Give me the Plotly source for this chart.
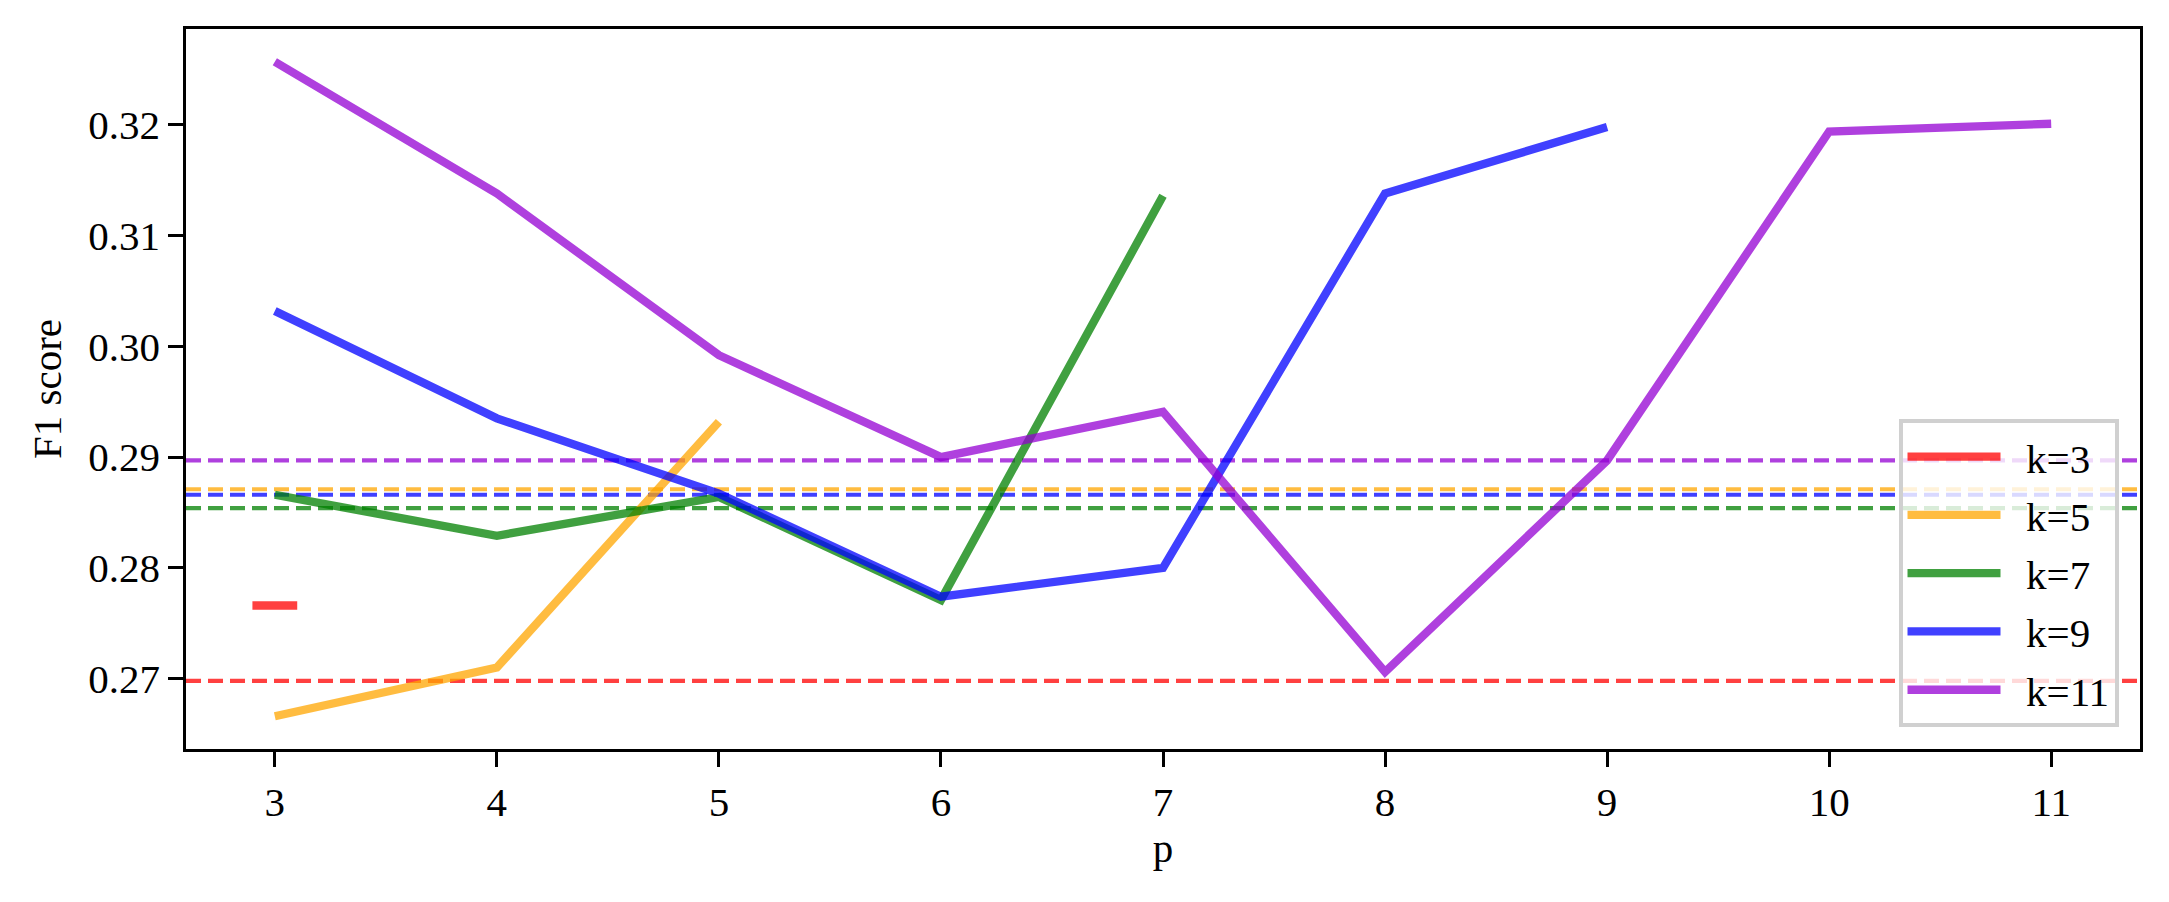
import plotly.graph_objects as go

# F1 score vs p for different k
p_values = [3, 4, 5, 6, 7, 8, 9, 10, 11]
k_labels = ["k=3", "k=5", "k=7", "k=9", "k=11"]
f1_k3 = [0.2766]
f1_k5 = [0.2666, 0.2710, 0.2932]
f1_k7 = [0.2866, 0.2829, 0.2864, 0.2771, 0.3136]
f1_k9 = [0.3032, 0.2935, 0.2867, 0.2774, 0.2800, 0.3138, 0.3198]
f1_k11 = [0.3257, 0.3138, 0.2992, 0.2900, 0.2941, 0.2706, 0.2897, 0.3194, 0.3201]
baseline = [0.2698, 0.2871, 0.2854, 0.2866, 0.2897]

COLORS = [
    "rgba(255,0,0,0.75)",
    "rgba(255,165,0,0.75)",
    "rgba(0,128,0,0.75)",
    "rgba(0,0,255,0.75)",
    "rgba(148,0,211,0.75)",
]
FONT = "Liberation Serif, Times New Roman, serif"
LW = 8.3        # 2pt at 300 dpi
DASH_LW = 4.2   # 1pt at 300 dpi
SPINE = 3.3

series = [f1_k3, f1_k5, f1_k7, f1_k9, f1_k11]

fig = go.Figure()

for label, ys, color, base in zip(k_labels, series, COLORS, baseline):
    fig.add_hline(
        y=base,
        line=dict(color=color, width=DASH_LW, dash="15px,7px"),
        layer="below",
    )
    fig.add_trace(
        go.Scatter(
            x=p_values[: len(ys)],
            y=ys,
            mode="lines",
            name="\u00a0\u00a0" + label,  # matplotlib leaves a gap after the handle
            legendgroup=label,
            line=dict(color=color, width=LW),
        )
    )

# k=3 has a single point, shown as a short horizontal stroke
fig.add_trace(
    go.Scatter(
        x=p_values[:1],
        y=f1_k3,
        mode="markers",
        showlegend=False,
        marker=dict(symbol="line-ew", size=32, color=COLORS[0],
                    line=dict(color=COLORS[0], width=LW)),
    )
)

all_y = [v for s in series for v in s] + baseline
ypad = 0.05 * (max(all_y) - min(all_y))
xpad = 0.05 * (max(p_values) - min(p_values))

axis_common = dict(
    showgrid=False,
    zeroline=False,
    showline=True,
    linecolor="black",
    linewidth=SPINE,
    mirror=True,
    ticks="outside",
    ticklen=14.6,
    tickwidth=SPINE,
    tickcolor="black",
    tickfont=dict(family=FONT, size=41, color="black"),
)

fig.update_layout(
    width=2169,
    height=902,
    paper_bgcolor="white",
    plot_bgcolor="white",
    font=dict(family=FONT, size=41, color="black"),
    margin=dict(l=186, r=29, t=29, b=153),
    xaxis=dict(
        **axis_common,
        range=[min(p_values) - xpad, max(p_values) + xpad],
        tickmode="array",
        tickvals=p_values,
        title=dict(text="p", font=dict(family=FONT, size=41), standoff=6),
    ),
    yaxis=dict(
        **axis_common,
        range=[min(all_y) - ypad, max(all_y) + ypad],
        dtick=0.01,
        tickformat=".2f",
        title=dict(text="F1 score", font=dict(family=FONT, size=41), standoff=14),
    ),
    legend=dict(
        x=0.989,
        y=0.03,
        xanchor="right",
        yanchor="bottom",
        bgcolor="rgba(255,255,255,0.8)",
        bordercolor="#d0d0d0",
        borderwidth=4,
        font=dict(family=FONT, size=41, color="black"),
        itemwidth=93,
        tracegroupgap=2,
    ),
    showlegend=True,
)

fig.write_html(
    "out.html",
    config={"displayModeBar": False},
    post_script="document.body.style.margin='0';",
)
